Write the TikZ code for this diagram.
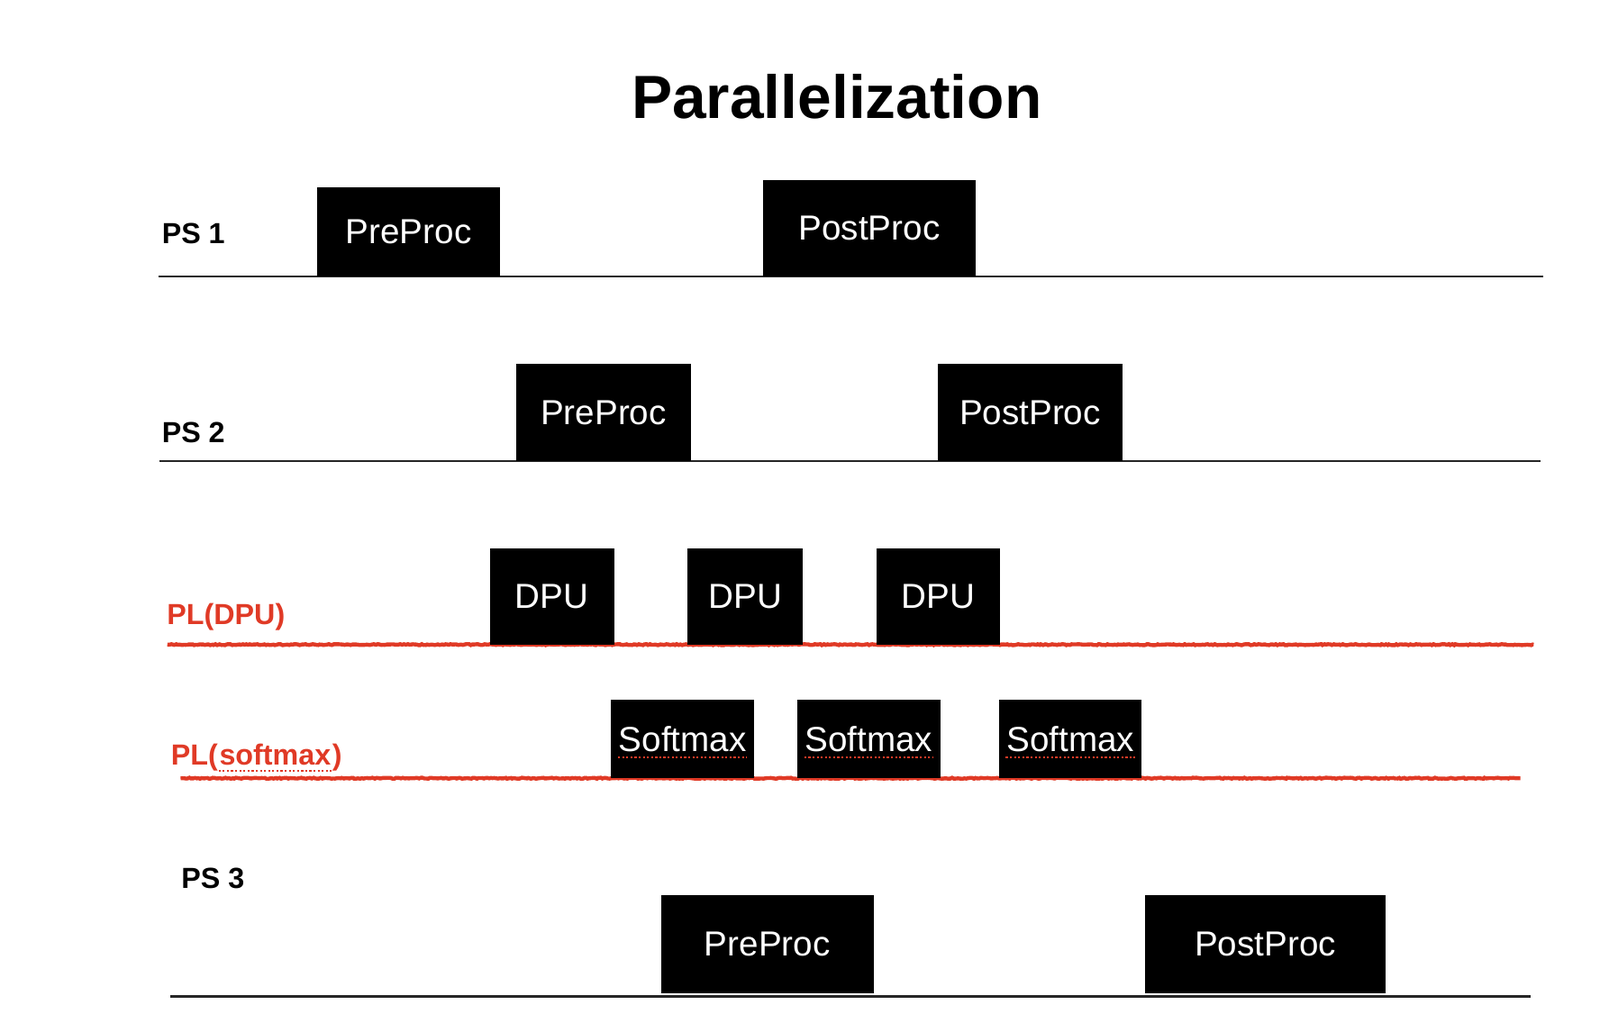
\documentclass[tikz,border=0pt]{standalone}
\usepackage{fontspec}
\setmainfont{Liberation Sans}
\usetikzlibrary{positioning,decorations.pathmorphing}

\definecolor{plred}{RGB}{224,58,38}

\tikzset{
    task/.style={
        fill=black,
        text=white,
        inner sep=0pt,
        font=\fontsize{9.7}{11}\selectfont},
    tasktext/.style={
        text=white,
        inner sep=0pt,
        font=\fontsize{9.7}{11}\selectfont},
    pslabel/.style={
        font=\fontsize{8.1}{10}\selectfont\bfseries,
        anchor=base west,
        inner sep=0pt},
    pllabel/.style={
        pslabel,
        text=plred},
    lane/.style={
        line width=0.6pt,
        black!85},
    pllane/.style={
        line width=1.1pt,
        plred,
        decorate,
        decoration={random steps, segment length=0.5pt, amplitude=0.15pt}},
    typo/.style={
        plred,
        line width=0.55pt,
        dash pattern=on 0.55pt off 0.6pt}
}

\begin{document}
\begin{tikzpicture}[x=0.01cm, y=-0.01cm]
    \useasboundingbox (0,0) rectangle (1568,994);

    \node[font=\fontsize{17}{20}\selectfont\bfseries] (title) at (820,95) {Parallelization};

    % PS 1
    \node[pslabel] (ps1) at (158,239) {PS 1};
    \draw[lane] (155,271) -- (1512,271);
    \node[task, minimum width=1.79cm, minimum height=0.87cm] (pre1) at (400.5,227.5) {PreProc};
    \node[task, minimum width=2.08cm, minimum height=0.94cm] (post1) at (852,224) {PostProc};

    % PS 2
    \node[pslabel] (ps2) at (158,434) {PS 2};
    \draw[lane] (156,452) -- (1510,452);
    \node[task, minimum width=1.71cm, minimum height=0.95cm] (pre2) at (591.5,404.5) {PreProc};
    \node[task, minimum width=1.81cm, minimum height=0.95cm] (post2) at (1009.5,404.5) {PostProc};

    % PL(DPU)
    \node[pllabel] (pl1) at (163,612) {PL(DPU)};
    \draw[pllane] (164,632) -- (1503,632);
    \node[task, minimum width=1.22cm, minimum height=0.94cm] (dpu1) at (541,585) {DPU};
    \node[task, minimum width=1.13cm, minimum height=0.94cm] (dpu2) at (730.5,585) {DPU};
    \node[task, minimum width=1.21cm, minimum height=0.94cm] (dpu3) at (919.5,585) {DPU};

    % PL(softmax)
    \node[pllabel] (pl2) at (167,750) {PL(};
    \node[pllabel, anchor=base west] (pl2s) at (pl2.base east) {softmax};
    \node[pllabel, anchor=base west] (pl2e) at (pl2s.base east) {)};
    \draw[typo] ([yshift=-1.6pt]pl2s.base west) -- ([yshift=-1.6pt]pl2s.base east);
    \draw[pllane] (177,763) -- (1490,763);
    \node[task, minimum width=1.40cm, minimum height=0.77cm] (soft1) at (669,724.5) {};
    \node[task, minimum width=1.41cm, minimum height=0.77cm] (soft2) at (851.5,724.5) {};
    \node[task, minimum width=1.40cm, minimum height=0.77cm] (soft3) at (1049,724.5) {};
    \node[tasktext] (soft1t) at (soft1) {Softmax};
    \node[tasktext] (soft2t) at (soft2) {Softmax};
    \node[tasktext] (soft3t) at (soft3) {Softmax};
    \draw[typo] ([yshift=-1.6pt]soft1t.base west) -- ([yshift=-1.6pt]soft1t.base east);
    \draw[typo] ([yshift=-1.6pt]soft2t.base west) -- ([yshift=-1.6pt]soft2t.base east);
    \draw[typo] ([yshift=-1.6pt]soft3t.base west) -- ([yshift=-1.6pt]soft3t.base east);

    % PS 3
    \node[pslabel] (ps3) at (177,871) {PS 3};
    \draw[lane] (167,977) -- (1500,977);
    \node[task, minimum width=2.08cm, minimum height=0.96cm] (pre3) at (752,926) {PreProc};
    \node[task, minimum width=2.36cm, minimum height=0.96cm] (post3) at (1240,926) {PostProc};
\end{tikzpicture}
\end{document}
